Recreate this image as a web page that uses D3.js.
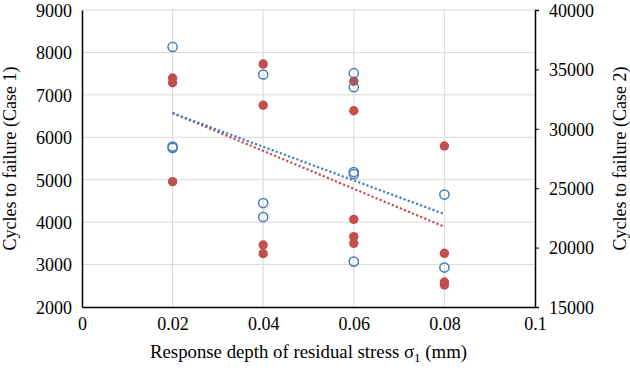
<!DOCTYPE html>
<html><head><meta charset="utf-8">
<script src="https://cdn.jsdelivr.net/npm/d3@7"></script>
<style>body{margin:0;background:#fff}svg{display:block}</style>
</head><body><svg id="c" width="630" height="370"></svg>
<script>
// Case 1 (left axis, hollow blue)
const case1X = [0.02,0.02,0.02, 0.04,0.04,0.04, 0.06,0.06,0.06,0.06,0.06, 0.08,0.08];
const case1Y = [8130,5780,5750, 7480,4450,4120, 7510,7180,5180,5130,3070, 4650,2930];
// Case 2 (right axis, filled red)
const case2X = [0.02,0.02,0.02, 0.04,0.04,0.04,0.04, 0.06,0.06,0.06,0.06,0.06, 0.08,0.08,0.08,0.08];
const case2Y = [34280,33880,25550, 35450,31980,20220,19490, 34000,31520,22380,20920,20360, 28550,19520,17100,16850];
// Trend lines
const trendX = [0.02, 0.08];
const trend1 = [6570, 4190];
const trend2 = [31330, 21760];
const xTicks = [0,0.02,0.04,0.06,0.08,0.1];
const leftTicks = [2000,3000,4000,5000,6000,7000,8000,9000];
const rightTicks = [15000,20000,25000,30000,35000,40000];

const FONT = "Liberation Serif";
const svg = d3.select("#c");
const L=82, R=535, T=10, B=307;
const x = d3.scaleLinear().domain([0,0.1]).range([L,R]);
const yL = d3.scaleLinear().domain([2000,9000]).range([B,T]);
const yR = d3.scaleLinear().domain([15000,40000]).range([B,T]);
const blue="#4a7ebb", red="#c0504d";

// grid
svg.append("g").selectAll("line").data(leftTicks.slice(1)).join("line")
  .attr("x1",L).attr("x2",R).attr("y1",d=>yL(d)).attr("y2",d=>yL(d))
  .attr("stroke","#d9d9d9").attr("stroke-width",1);
svg.append("g").selectAll("line").data(xTicks.slice(1,-1)).join("line")
  .attr("x1",d=>x(d)).attr("x2",d=>x(d)).attr("y1",T).attr("y2",B)
  .attr("stroke","#d9d9d9").attr("stroke-width",1);

// axes
const gl = svg.append("g").attr("transform",`translate(${L},0)`)
  .call(d3.axisLeft(yL).tickValues(leftTicks).tickSize(0).tickPadding(10).tickFormat(d3.format("d")));
const gr = svg.append("g").attr("transform",`translate(${R},0)`)
  .call(d3.axisRight(yR).tickValues(rightTicks).tickSize(4).tickPadding(10).tickFormat(d3.format("d")));
const gb = svg.append("g").attr("transform",`translate(0,${B})`)
  .call(d3.axisBottom(x).tickValues(xTicks).tickSize(0).tickPadding(10).tickFormat(d=>d===0?"0":(d===0.1?"0.1":d3.format(".2f")(d))));
[gl,gr,gb].forEach(g=>{
  g.attr("font-family", FONT).attr("font-size", 18);
  g.selectAll("text").attr("fill","#000");
  g.select(".domain").attr("stroke","#000").attr("stroke-width",1.5);
  g.selectAll(".tick line").attr("stroke","#000");
});
gl.selectAll("text").attr("dy","0.35em");
gr.selectAll("text").attr("dy","0.35em");

// trend lines
const line1 = d3.line().x((d,i)=>x(trendX[i])).y(d=>yL(d));
const line2 = d3.line().x((d,i)=>x(trendX[i])).y(d=>yR(d));
svg.append("path").attr("d",line2(trend2)).attr("fill","none").attr("stroke",red)
  .attr("stroke-width",2.2).attr("stroke-dasharray","2.2,2.2");
svg.append("path").attr("d",line1(trend1)).attr("fill","none").attr("stroke",blue)
  .attr("stroke-width",2.2).attr("stroke-dasharray","2.2,2.2");

// points
svg.append("g").selectAll("circle").data(case2Y).join("circle")
  .attr("cx",(d,i)=>x(case2X[i])).attr("cy",d=>yR(d)).attr("r",4.7)
  .attr("fill",red);
svg.append("g").selectAll("circle").data(case1Y).join("circle")
  .attr("cx",(d,i)=>x(case1X[i])).attr("cy",d=>yL(d)).attr("r",4.6)
  .attr("fill","none").attr("stroke",blue).attr("stroke-width",1.5);

// titles
const xt = svg.append("text").attr("x",(L+R)/2).attr("y",358).attr("text-anchor","middle")
  .attr("font-family",FONT).attr("font-size",18.8).attr("fill","#000");
xt.append("tspan").text("Response depth of residual stress σ");
xt.append("tspan").attr("dy",4).attr("font-size",13).text("1");
xt.append("tspan").attr("dy",-4).text(" (mm)");
svg.append("text").attr("transform",`translate(16,${(T+B)/2}) rotate(-90)`).attr("text-anchor","middle")
  .attr("font-family",FONT).attr("font-size",18).attr("fill","#000")
  .text("Cycles to failure (Case 1)");
svg.append("text").attr("transform",`translate(626,${(T+B)/2}) rotate(-90)`).attr("text-anchor","middle")
  .attr("font-family",FONT).attr("font-size",18).attr("fill","#000")
  .text("Cycles to failure (Case 2)");
</script></body></html>
